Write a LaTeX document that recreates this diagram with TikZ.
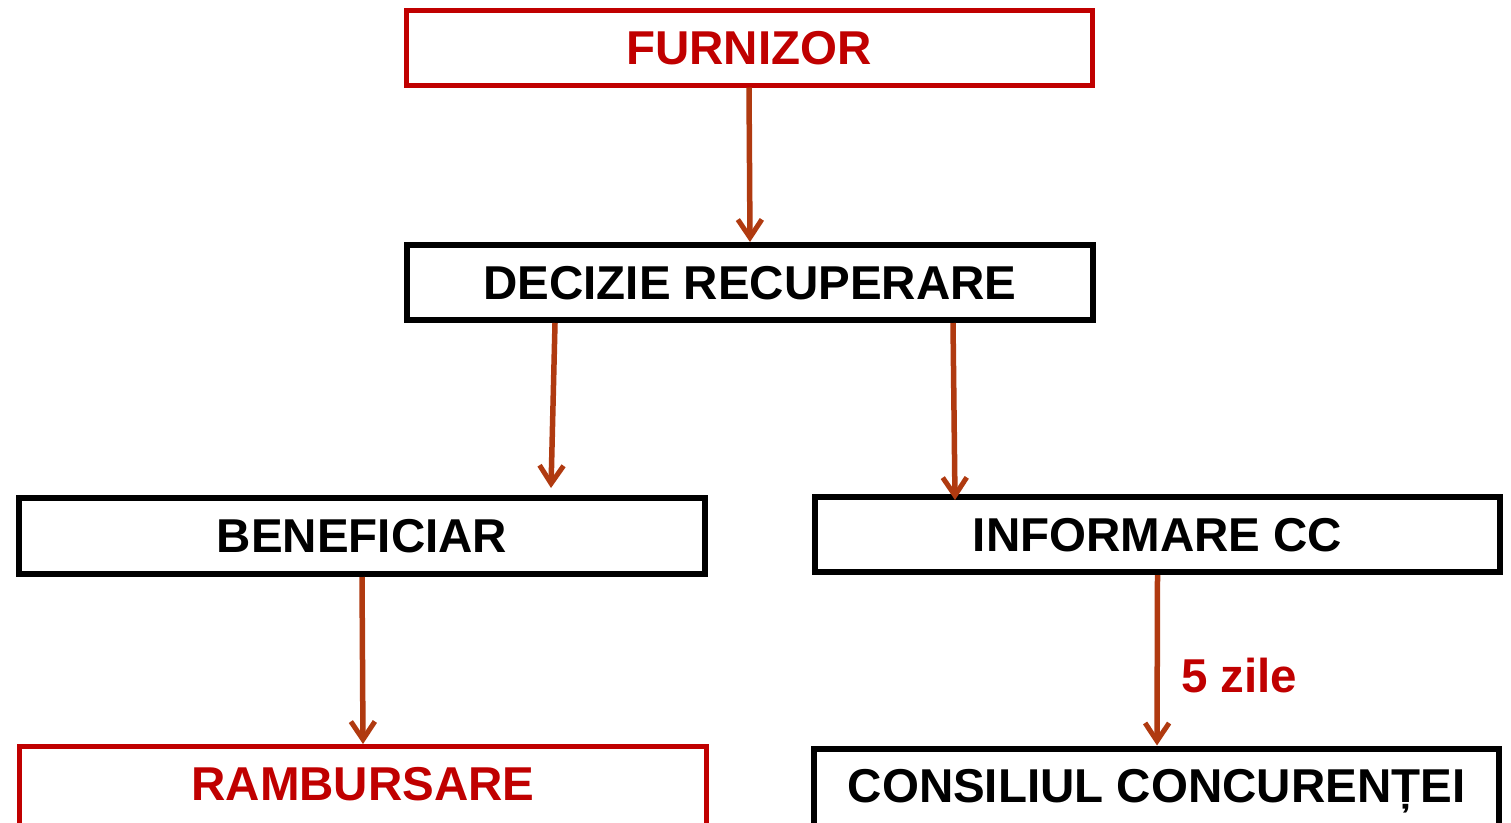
\documentclass[tikz,border=0pt]{standalone}
\usepackage{fontspec}
\setmainfont{Liberation Sans}
\usetikzlibrary{arrows.meta}
\definecolor{boxred}{RGB}{192,0,0}
\definecolor{arrowbrown}{RGB}{176,58,16}
\tikzset{
  box/.style={draw, rectangle, inner sep=0pt, minimum width=686pt, minimum height=75pt,
    font=\fontsize{47.5}{50}\selectfont\bfseries, text depth=0pt, fill=white},
  redbox/.style={box, line width=5pt, draw=boxred, text=boxred},
  blackbox/.style={box, line width=6pt, draw=black, text=black},
  cutbox/.style={minimum height=85pt, text depth=10pt},
  arr/.style={draw=arrowbrown, line width=5.5pt, -{Straight Barb[length=18pt,width=24pt,line width=5pt]}},
}
\begin{document}
\begin{tikzpicture}[x=1pt,y=-1pt]
\useasboundingbox (0,0) rectangle (1511,822);
\clip (0,0) rectangle (1511,822);
\fill[white] (0,0) rectangle (1511,822);
\node[redbox] (furn) at (749,47.5) {FURNIZOR};
\node[blackbox] (dec) at (750,282.5) {DECIZIE RECUPERARE};
\node[blackbox, minimum height=76pt] (ben) at (362,536) {BENEFICIAR};
\node[blackbox, minimum width=685pt] (inf) at (1157.5,534.5) {INFORMARE CC};
\node[redbox, cutbox, minimum width=687pt] (ramb) at (363,789) {RAMBURSARE};
\node[blackbox, cutbox, minimum width=685pt] (cons) at (1156.5,791) {CONSILIUL CONCURENȚEI};
\node[anchor=base west, inner sep=0pt, text=boxred, font=\fontsize{47.5}{50}\selectfont\bfseries] (zile) at (1181,692) {5 zile};
\coordinate (benend) at (551,488);
\coordinate (infend) at (955,500);
\draw[arr] (furn.south) -- (dec.north);
\draw[arr] ([xshift=-195pt]dec.south) -- (benend);
\draw[arr] ([xshift=203pt]dec.south) -- (infend);
\draw[arr] (ben.south) -- (ramb.north);
\draw[arr] (inf.south) -- ([xshift=0.5pt]cons.north);
\end{tikzpicture}
\end{document}
